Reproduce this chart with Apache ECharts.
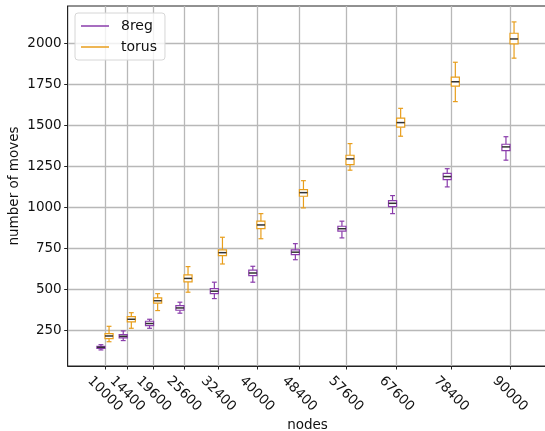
<!DOCTYPE html>
<html>
<head>
<meta charset="utf-8">
<script src="https://cdn.jsdelivr.net/npm/echarts@6/dist/echarts.min.js"></script>
<style>html,body{margin:0;padding:0;background:#fff}#main{width:545px;height:431px}</style>
</head>
<body>
<div id="main"></div>
<script>
// 节点数（x 轴刻度）
var nodes = [10000, 14400, 19600, 25600, 32400, 40000, 48400, 57600, 67600, 78400, 90000];
// 每组：[下须, Q1, 中位数, Q3, 上须]
var reg8 = [
  [130, 140, 146, 152, 162],
  [187, 203, 213, 223, 246],
  [262, 278, 291, 305, 317],
  [354, 372, 386, 400, 421],
  [443, 473, 488, 504, 543],
  [543, 583, 599, 616, 640],
  [680, 711, 726, 740, 778],
  [813, 854, 869, 884, 915],
  [961, 1004, 1024, 1040, 1071],
  [1124, 1168, 1187, 1207, 1235],
  [1287, 1345, 1368, 1384, 1430]
];
var torus = [
  [180, 199, 215, 229, 274],
  [262, 301, 317, 333, 357],
  [370, 415, 430, 447, 473],
  [482, 545, 566, 587, 638],
  [654, 705, 723, 740, 817],
  [808, 869, 892, 915, 961],
  [996, 1067, 1089, 1107, 1162],
  [1226, 1260, 1295, 1317, 1388],
  [1433, 1488, 1516, 1543, 1603],
  [1644, 1738, 1765, 1793, 1884],
  [1909, 1996, 2026, 2061, 2130]
];
var yTicks = [250, 500, 750, 1000, 1250, 1500, 1750, 2000];

var PURPLE = '#8a3cab';
var ORANGE = '#e89e1c';
var FONT = 'DejaVu Sans';

// 箱体宽度与左右偏移（数据单位）
var boxW = 1600;
var shift = 800;

function boxRenderer(color) {
  return function (params, api) {
    var x = api.value(0);
    var half = api.size([boxW, 0])[0] / 2;
    var cap = half * 0.6;
    var pLow = api.coord([x, api.value(1)]);
    var pQ1 = api.coord([x, api.value(2)]);
    var pMed = api.coord([x, api.value(3)]);
    var pQ3 = api.coord([x, api.value(4)]);
    var pHigh = api.coord([x, api.value(5)]);
    var cx = pLow[0];
    var ls = { stroke: color, lineWidth: 1.2, fill: null };
    return {
      type: 'group',
      children: [
        { type: 'line', shape: { x1: cx, y1: pLow[1], x2: cx, y2: pQ1[1] }, style: ls },
        { type: 'line', shape: { x1: cx, y1: pQ3[1], x2: cx, y2: pHigh[1] }, style: ls },
        { type: 'line', shape: { x1: cx - cap, y1: pLow[1], x2: cx + cap, y2: pLow[1] }, style: ls },
        { type: 'line', shape: { x1: cx - cap, y1: pHigh[1], x2: cx + cap, y2: pHigh[1] }, style: ls },
        { type: 'rect', shape: { x: cx - half, y: pQ3[1], width: half * 2, height: pQ1[1] - pQ3[1] },
          style: { stroke: color, lineWidth: 1.2, fill: '#fff' } },
        { type: 'line', shape: { x1: cx - half, y1: pMed[1], x2: cx + half, y2: pMed[1] },
          style: { stroke: '#333', lineWidth: 1.5 } }
      ]
    };
  };
}

var myChart = echarts.init(document.getElementById('main'));

var option = {
  animation: false,
  textStyle: { fontFamily: FONT },
  grid: {
    left: 67.7, top: 6, width: 479.6, bottom: 65,
    outerBoundsMode: 'none',
    show: true, borderColor: '#222', borderWidth: 1
  },
  legend: {
    orient: 'vertical',
    left: 75, top: 13,
    padding: [6, 8, 6, 6],
    itemWidth: 28, itemHeight: 1.5,
    itemGap: 7,
    borderColor: '#d6d6d6', borderWidth: 1, borderRadius: 3,
    backgroundColor: 'rgba(255,255,255,0.8)',
    textStyle: { fontFamily: FONT, fontSize: 14, color: '#111', padding: [0, 0, 0, 7] },
    data: [{ name: '8reg', icon: 'rect' }, { name: 'torus', icon: 'rect' }]
  },
  xAxis: {
    type: 'value',
    min: 2632, max: 97368,
    name: 'nodes', nameLocation: 'middle', nameGap: 52, nameMoveOverlap: false,
    nameTextStyle: { fontFamily: FONT, fontSize: 13.5, color: '#111' },
    axisLine: { lineStyle: { color: '#222', width: 1 } },
    axisTick: { customValues: nodes, length: 3.5, lineStyle: { color: '#222' } },
    axisLabel: {
      customValues: nodes, rotate: -45, align: 'center', verticalAlign: 'middle', margin: 28,
      fontFamily: FONT, fontSize: 13.5, color: '#111',
      formatter: function (v) { return String(v); }
    },
    splitLine: { show: true, lineStyle: { color: '#b8b8b8', width: 1.3 } }
  },
  yAxis: {
    type: 'value',
    min: 32, max: 2227,
    name: 'number of moves', nameLocation: 'middle', nameGap: 46, nameMoveOverlap: false,
    nameTextStyle: { fontFamily: FONT, fontSize: 13.5, color: '#111' },
    axisLine: { show: true, lineStyle: { color: '#222', width: 1 } },
    axisTick: { show: true, customValues: yTicks, length: 3.5, lineStyle: { color: '#222' } },
    axisLabel: {
      customValues: yTicks, margin: 6,
      fontFamily: FONT, fontSize: 13.5, color: '#111',
      formatter: function (v) { return String(v); }
    },
    splitLine: { show: true, lineStyle: { color: '#b8b8b8', width: 1.3 } }
  },
  series: [
    {
      name: '8reg',
      type: 'custom',
      itemStyle: { color: PURPLE },
      renderItem: boxRenderer(PURPLE),
      encode: { x: 0, y: [1, 2, 3, 4, 5] },
      data: nodes.map(function (n, i) { return [n - shift].concat(reg8[i]); })
    },
    {
      name: 'torus',
      type: 'custom',
      itemStyle: { color: ORANGE },
      renderItem: boxRenderer(ORANGE),
      encode: { x: 0, y: [1, 2, 3, 4, 5] },
      data: nodes.map(function (n, i) { return [n + shift].concat(torus[i]); })
    }
  ]
};

myChart.setOption(option);
</script>
</body>
</html>
